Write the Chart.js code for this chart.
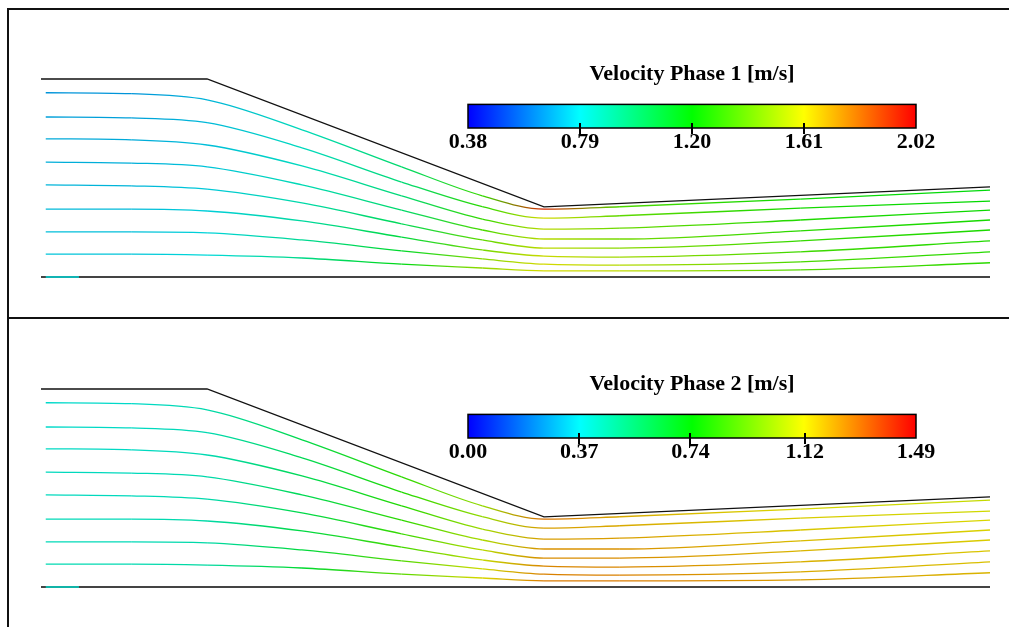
<!DOCTYPE html>
<html>
<head>
<meta charset="utf-8">
<title>Velocity streamlines</title>
<script src="https://cdn.jsdelivr.net/npm/chart.js@4.4.1/dist/chart.umd.min.js"></script>
<style>
  html, body { margin: 0; padding: 0; background: #fff; }
  body { width: 1009px; height: 627px; position: relative; overflow: hidden; }
  canvas { position: absolute; }
  .rule { position: absolute; background: #111; }
</style>
</head>
<body>
<canvas id="flow1" width="1000" height="308" style="left:9px;top:10px"></canvas>
<canvas id="flow2" width="1000" height="307" style="left:9px;top:320px"></canvas>
<canvas id="bar1" width="580" height="130" style="left:400px;top:40px"></canvas>
<canvas id="bar2" width="580" height="130" style="left:400px;top:350px"></canvas>
<div class="rule" style="left:7px;top:8px;width:2px;height:619px"></div>
<div class="rule" style="left:7px;top:8px;width:1002px;height:2px"></div>
<div class="rule" style="left:7px;top:317px;width:1002px;height:2px"></div>
<script>
// channel geometry (cm)
const wallTopX = [0, 35, 106, 200];
const wallTopY = [41.7, 41.7, 14.75, 19.0];
const bedX = [0, 200];
const bedY = [0, 0];

// streamlines: y read at these stations
const stationX = [1, 19, 35, 55, 76, 93, 106, 122, 160, 200];
const streamlineY = [
  [38.8, 38.6, 37.3, 31.0, 23.2, 17.1, 14.3, 14.8, 16.4, 18.3],
  [33.7, 33.5, 32.5, 27.2, 20.0, 14.8, 12.4, 12.9, 14.5, 16.0],
  [29.1, 28.9, 27.8, 23.4, 17.1, 12.2, 10.1, 10.3, 12.0, 14.1],
  [24.2, 24.0, 23.2, 19.4, 14.1, 9.9, 8.0, 8.0, 9.7, 12.0],
  [19.4, 19.2, 18.5, 15.6, 11.2, 7.8, 6.1, 6.1, 7.6, 9.9],
  [14.3, 14.3, 13.9, 11.8, 8.4, 5.7, 4.4, 4.2, 5.3, 7.6],
  [9.5, 9.5, 9.3, 7.8, 5.5, 3.8, 2.7, 2.5, 3.2, 5.3],
  [4.8, 4.8, 4.6, 4.0, 2.7, 1.9, 1.3, 1.3, 1.5, 3.0]
];
const bedLineX = [1, 8];
const bedLineY = [0, 0];

// velocity along each streamline (m/s)
const velPhase1 = [
  [0.66, 0.66, 0.72, 0.85, 1.00, 1.30, 1.95, 1.35, 1.22, 1.18],
  [0.68, 0.68, 0.73, 0.84, 0.98, 1.28, 1.60, 1.38, 1.24, 1.20],
  [0.70, 0.70, 0.74, 0.84, 0.98, 1.30, 1.55, 1.40, 1.26, 1.22],
  [0.71, 0.71, 0.75, 0.86, 1.00, 1.34, 1.55, 1.42, 1.28, 1.24],
  [0.72, 0.72, 0.76, 0.88, 1.04, 1.38, 1.56, 1.46, 1.30, 1.25],
  [0.73, 0.73, 0.77, 0.90, 1.08, 1.42, 1.58, 1.50, 1.32, 1.26],
  [0.74, 0.74, 0.78, 0.92, 1.12, 1.45, 1.60, 1.54, 1.34, 1.27],
  [0.75, 0.75, 0.79, 0.94, 1.16, 1.48, 1.60, 1.56, 1.36, 1.28]
];
const velPhase2 = [
  [0.40, 0.40, 0.45, 0.62, 0.82, 1.00, 1.30, 1.20, 1.12, 1.08],
  [0.40, 0.41, 0.44, 0.60, 0.80, 1.00, 1.22, 1.20, 1.14, 1.10],
  [0.41, 0.41, 0.44, 0.60, 0.80, 1.02, 1.22, 1.22, 1.15, 1.12],
  [0.42, 0.42, 0.45, 0.60, 0.82, 1.04, 1.24, 1.24, 1.17, 1.13],
  [0.42, 0.42, 0.45, 0.62, 0.84, 1.06, 1.25, 1.25, 1.18, 1.14],
  [0.43, 0.43, 0.46, 0.63, 0.86, 1.08, 1.26, 1.26, 1.19, 1.15],
  [0.43, 0.43, 0.46, 0.64, 0.88, 1.10, 1.27, 1.27, 1.20, 1.16],
  [0.44, 0.44, 0.47, 0.66, 0.90, 1.12, 1.28, 1.28, 1.22, 1.18]
];
const bedVel1 = [0.79, 0.79];
const bedVel2 = [0.40, 0.40];

// colour legends
const ticksPhase1 = [0.38, 0.79, 1.20, 1.61, 2.02];
const ticksPhase2 = [0.00, 0.37, 0.74, 1.12, 1.49];
const titlePhase1 = "Velocity Phase 1 [m/s]";
const titlePhase2 = "Velocity Phase 2 [m/s]";

const cmapColors = [[0, 0, 255], [0, 255, 255], [0, 255, 0], [255, 255, 0], [255, 0, 0]];
const serif = "'Liberation Serif', 'DejaVu Serif', serif";
const lineShade = 0.85; // thin lines read a bit darker than the bar

function cmap(v, lo, hi, shade = 1) {
  let t = (v - lo) / (hi - lo);
  t = Math.max(0, Math.min(1, t));
  const s = t * (cmapColors.length - 1);
  const i = Math.min(cmapColors.length - 2, Math.floor(s));
  const f = s - i;
  const a = cmapColors[i], b = cmapColors[i + 1];
  const c = a.map((av, k) => Math.round((av + (b[k] - av) * f) * shade));
  return `rgb(${c[0]},${c[1]},${c[2]})`;
}

function points(xs, ys) {
  return xs.map((x, i) => ({ x, y: ys[i] }));
}

function streamDataset(g2d, xs, ys, vs, lo, hi) {
  return {
    data: points(xs, ys),
    showLine: true,
    pointRadius: 0,
    borderWidth: 1.3,
    cubicInterpolationMode: "monotone",
    clip: false,
    borderColor: cmap(vs[0], lo, hi, lineShade),
    segment: {
      borderColor: (c) => {
        const g = g2d.createLinearGradient(c.p0.x, 0, c.p1.x, 0);
        g.addColorStop(0, cmap(vs[c.p0DataIndex], lo, hi, lineShade));
        g.addColorStop(1, cmap(vs[c.p1DataIndex], lo, hi, lineShade));
        return g;
      }
    }
  };
}

function makeFlow(id, vel, bedVel, lo, hi, padBottom) {
  const canvas = document.getElementById(id);
  const g2d = canvas.getContext("2d");
  const datasets = [
    streamDataset(g2d, bedLineX, bedLineY, bedVel, lo, hi),
    { data: points(wallTopX, wallTopY), showLine: true, pointRadius: 0, borderWidth: 1.3,
      borderColor: "#111", tension: 0, clip: false },
    { data: points(bedX, bedY), showLine: true, pointRadius: 0, borderWidth: 2,
      borderColor: "#444", tension: 0, clip: false }
  ];
  streamlineY.forEach((ys, i) => {
    datasets.push(streamDataset(g2d, stationX, ys, vel[i], lo, hi));
  });
  new Chart(canvas, {
    type: "scatter",
    data: { datasets },
    options: {
      responsive: false,
      animation: false,
      events: [],
      layout: { padding: { left: 32, right: 19, top: 69, bottom: padBottom } },
      plugins: { legend: { display: false }, tooltip: { enabled: false } },
      scales: {
        x: { type: "linear", min: 0, max: 200, display: false },
        y: { type: "linear", min: 0, max: 41.7, display: false }
      }
    }
  });
}

const colorbarPlugin = {
  id: "colorbar",
  afterDraw(chart) {
    const { ctx, chartArea: a, scales: { x } } = chart;
    const g = ctx.createLinearGradient(a.left, 0, a.right, 0);
    cmapColors.forEach((c, i) => g.addColorStop(i / (cmapColors.length - 1), `rgb(${c[0]},${c[1]},${c[2]})`));
    ctx.save();
    ctx.fillStyle = g;
    ctx.fillRect(a.left, a.top, a.right - a.left, a.bottom - a.top);
    ctx.strokeStyle = "#000";
    ctx.lineWidth = 1.5;
    ctx.strokeRect(a.left, a.top, a.right - a.left, a.bottom - a.top);
    ctx.lineWidth = 2;
    x.ticks.slice(1, -1).forEach((t) => {
      const px = Math.round(x.getPixelForValue(t.value));
      ctx.beginPath();
      ctx.moveTo(px, a.bottom - 5);
      ctx.lineTo(px, a.bottom + 6);
      ctx.stroke();
    });
    ctx.restore();
  }
};

function makeColorbar(id, title, ticks) {
  const lo = ticks[0], hi = ticks[ticks.length - 1];
  new Chart(document.getElementById(id), {
    type: "scatter",
    data: { datasets: [] },
    options: {
      responsive: false,
      animation: false,
      events: [],
      layout: { padding: { left: 68, right: 64, top: 0, bottom: 12 } },
      plugins: {
        legend: { display: false },
        tooltip: { enabled: false },
        title: {
          display: true, text: title, color: "#000",
          font: { family: serif, size: 22, weight: "bold" },
          padding: { top: 21, bottom: 17 }
        }
      },
      scales: {
        x: {
          type: "linear", min: lo, max: hi,
          afterBuildTicks: (s) => { s.ticks = ticks.map((v) => ({ value: v })); },
          afterFit: (s) => { s.height = 30; },
          grid: { display: false, drawTicks: false },
          border: { display: false },
          ticks: {
            padding: 1, color: "#000", autoSkip: false, maxRotation: 0,
            font: { family: serif, size: 22, weight: "bold" },
            callback: (v) => Number(v).toFixed(2)
          }
        },
        y: { display: false, min: 0, max: 1 }
      }
    },
    plugins: [colorbarPlugin]
  });
}

makeFlow("flow1", velPhase1, bedVel1, ticksPhase1[0], ticksPhase1[4], 41);
makeFlow("flow2", velPhase2, bedVel2, ticksPhase2[0], ticksPhase2[4], 40);
makeColorbar("bar1", titlePhase1, ticksPhase1);
makeColorbar("bar2", titlePhase2, ticksPhase2);
</script>
</body>
</html>
